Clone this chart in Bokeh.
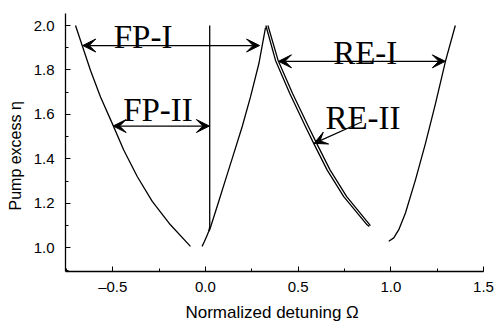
from bokeh.plotting import figure
from bokeh.models import (Range1d, Arrow, VeeHead, Label, SingleIntervalTicker,
                          CustomJSTickFormatter)
from bokeh.embed import file_html
from bokeh.resources import INLINE

# Boundary curves: normalized detuning (omega) vs pump excess (eta)
fp_left_omega = [-0.701, -0.665, -0.620, -0.566, -0.503, -0.441, -0.368, -0.287, -0.189, -0.081]
fp_left_eta = [2.0, 1.910, 1.798, 1.679, 1.560, 1.440, 1.321, 1.209, 1.104, 1.007]

fp_mid_omega = [-0.018, -0.005, 0.008, 0.018, 0.023, 0.023]
fp_mid_eta = [1.007, 1.03, 1.055, 1.075, 1.095, 2.0]

fp_right_omega = [0.018, 0.023, 0.063, 0.108, 0.153, 0.198, 0.243, 0.288, 0.324]
fp_right_eta = [1.075, 1.082, 1.186, 1.306, 1.425, 1.545, 1.679, 1.828, 1.99]

re_inner_omega = [0.326, 0.378, 0.455, 0.540, 0.584, 0.656, 0.746, 0.872, 0.884]
re_inner_eta = [2.0, 1.843, 1.694, 1.545, 1.470, 1.351, 1.231, 1.104, 1.097]

re_outer_omega = [0.337, 0.392, 0.470, 0.556, 0.600, 0.672, 0.762, 0.890]
re_outer_eta = [2.0, 1.843, 1.694, 1.545, 1.470, 1.351, 1.231, 1.10]

re_right_omega = [0.989, 1.016, 1.043, 1.079, 1.133, 1.187, 1.241, 1.296, 1.348]
re_right_eta = [1.030, 1.045, 1.082, 1.157, 1.306, 1.470, 1.649, 1.843, 2.0]

# Range arrows: (omega_start, omega_end, eta)
fp1_span = (-0.662, 0.292, 1.91)
fp2_span = (-0.498, 0.021, 1.548)
re1_span = (0.394, 1.294, 1.839)
# Pointer to the RE-II pair: (omega_from, eta_from, omega_to, eta_to)
re2_pointer = (0.845, 1.567, 0.586, 1.47)

# Region labels: (text, omega, eta)
region_labels = [("FP-I", -0.495, 1.948), ("FP-II", -0.444, 1.622),
                 ("RE-I", 0.689, 1.876), ("RE-II", 0.647, 1.582)]

p = figure(width=494, height=324, output_backend="svg", toolbar_location=None,
           x_range=Range1d(-0.755, 1.5), y_range=Range1d(0.894, 2.054),
           min_border_left=65, min_border_right=11, min_border_top=13,
           min_border_bottom=52)
p.outline_line_color = None
p.xgrid.visible = False
p.ygrid.visible = False
p.background_fill_color = "white"
p.border_fill_color = "white"

lw = 1.3
for xs, ys in [(fp_left_omega, fp_left_eta), (fp_mid_omega, fp_mid_eta),
               (fp_right_omega, fp_right_eta), (re_inner_omega, re_inner_eta),
               (re_outer_omega, re_outer_eta), (re_right_omega, re_right_eta)]:
    p.line(xs, ys, line_color="black", line_width=lw, line_join="round")


def head():
    return VeeHead(size=13, fill_color="black", line_color="black", line_width=1)


for x0, x1, y in (fp1_span, fp2_span, re1_span):
    p.add_layout(Arrow(x_start=x0, y_start=y, x_end=x1, y_end=y,
                       start=head(), end=head(), line_color="black", line_width=1.2))

xa, ya, xb, yb = re2_pointer
p.add_layout(Arrow(x_start=xa, y_start=ya, x_end=xb, y_end=yb,
                   end=head(), line_color="black", line_width=1.2))

for txt, x, y in region_labels:
    p.add_layout(Label(x=x, y=y, text=txt, text_font="Liberation Serif",
                       text_font_size="33px", text_color="black",
                       text_align="left", text_baseline="alphabetic"))

# Axes
p.xaxis.ticker = SingleIntervalTicker(interval=0.5, num_minor_ticks=2)
p.yaxis.ticker = SingleIntervalTicker(interval=0.2, num_minor_ticks=2)
p.xaxis.formatter = CustomJSTickFormatter(code="return tick.toFixed(1).replace('-', '\u2013');")
p.yaxis.formatter = CustomJSTickFormatter(code="return tick.toFixed(1);")
p.xaxis.axis_label = "Normalized detuning  \u03a9"
# trailing no-break spaces nudge the rotated title down a little
p.yaxis.axis_label = "Pump excess  \u03b7" + "\u00a0" * 5
for ax in (p.xaxis, p.yaxis):
    ax.axis_line_color = "black"
    ax.axis_line_width = 1.3
    ax.major_tick_line_color = "black"
    ax.minor_tick_line_color = "black"
    ax.major_tick_in = 5
    ax.major_tick_out = 0
    ax.minor_tick_in = 3
    ax.minor_tick_out = 0
    ax.major_label_text_font = "Liberation Sans"
    ax.major_label_text_font_size = "15px"
    ax.major_label_text_color = "black"
    ax.axis_label_text_font = "Liberation Sans"
    ax.axis_label_text_font_style = "normal"
    ax.axis_label_text_color = "black"
p.xaxis.axis_label_text_font_size = "17px"
p.yaxis.axis_label_text_font_size = "16px"
p.xaxis.major_label_standoff = 6
p.yaxis.major_label_standoff = 11
p.xaxis.axis_label_standoff = 5
p.yaxis.axis_label_standoff = 7

open("out.html", "w").write(file_html(p, INLINE))
